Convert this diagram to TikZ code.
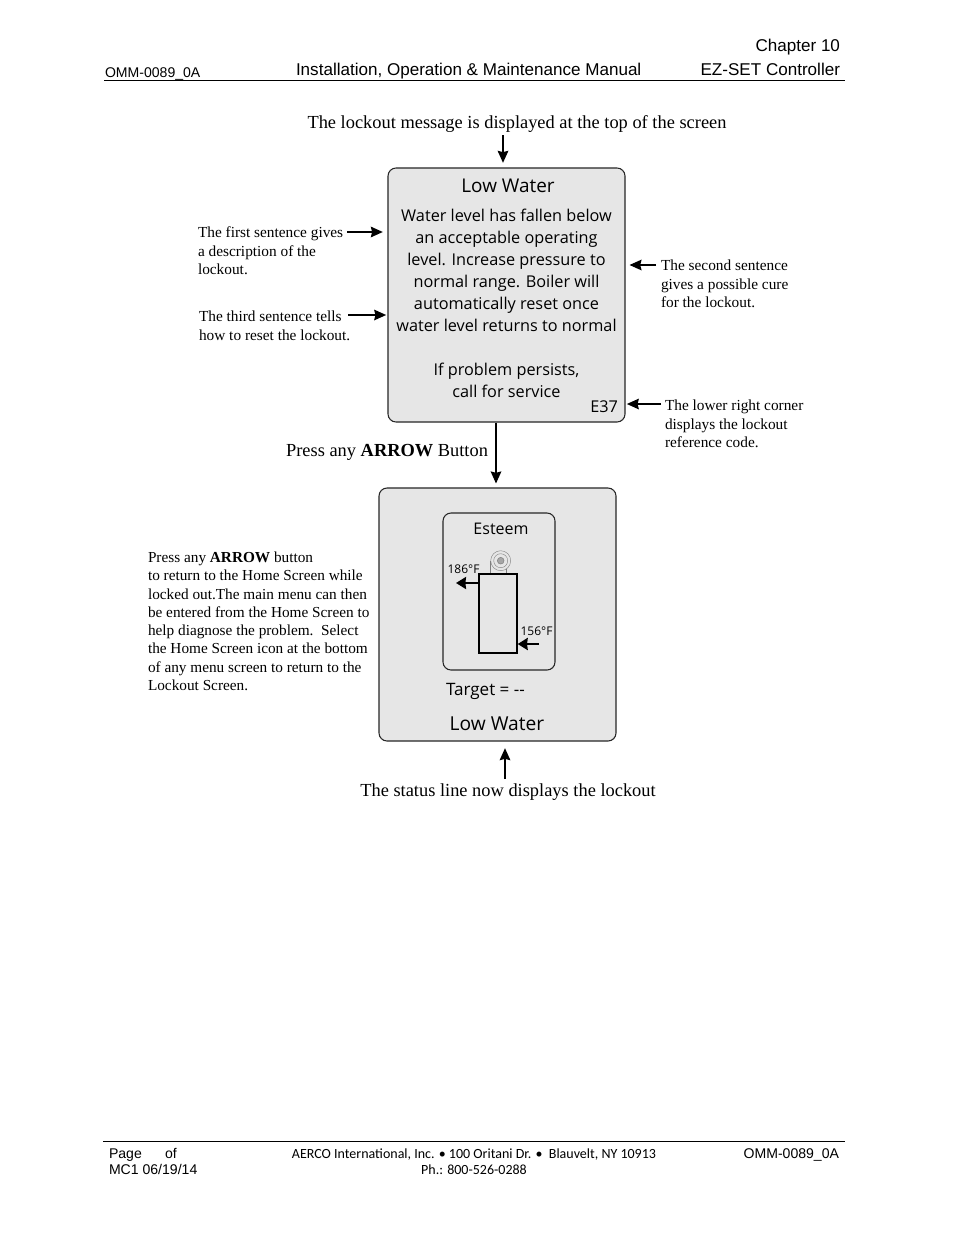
\documentclass[tikz,border=0pt]{standalone}
\usepackage{fontspec}
\usepackage{xcolor}
\usetikzlibrary{arrows.meta}
\setmainfont{Liberation Serif}
\newfontfamily\headfont{Liberation Sans}
\newfontfamily\footfont{Carlito}
\newfontfamily\screenfont{Open Sans}
\definecolor{screengray}{HTML}{E6E6E6}
\tikzset{
  lineup/.style={inner sep=0pt, outer sep=0pt},
  oneline/.style={lineup, text height=0.72em, text depth=0.22em, yshift=-2pt},
  headtext/.style={oneline, font=\headfont\fontsize{12.8}{14}\selectfont},
  smallhead/.style={oneline, font=\headfont\fontsize{10.55}{12}\selectfont},
  foottext/.style={oneline, font=\footfont\fontsize{10.5}{12}\selectfont},
  note/.style={lineup, align=left, anchor=north west, font=\fontsize{11.5}{13.9}\selectfont},
  caption/.style={oneline, font=\fontsize{13.8}{16}\selectfont},
  screen/.style={draw=black!85, fill=screengray, line width=0.8pt, rounded corners=6pt, inner sep=0pt},
  screentext/.style={lineup, font=\screenfont\fontsize{12.2}{16.5}\selectfont, align=center},
  arr/.style={-{Stealth[length=9pt, width=8pt, inset=1pt]}, line width=1pt},
  fatarr/.style={-{Stealth[length=7.5pt, width=9pt, inset=0.5pt]}, line width=2.1pt}
}
\begin{document}
\begin{tikzpicture}[x=0.75pt, y=-0.75pt]
    \useasboundingbox (0,0) rectangle (954,1235);
    \fill[white] (0,0) rectangle (954,1235);

    % page header
    \node[headtext, anchor=east] (chapter) at (840,45) {Chapter 10};
    \node[headtext, anchor=east] (controller) at (840,69) {EZ-SET Controller};
    \node[headtext, anchor=west] (manual) at (296,69) {Installation, Operation \& Maintenance Manual};
    \node[smallhead, anchor=west] (docleft) at (105,71) {OMM-0089\_0A};
    \coordinate (headl) at (104,80.5);
    \coordinate (headr) at (845,80.5);
    \draw[line width=0.7pt] (headl) -- (headr);

    % upper screen
    \node[screen, minimum width=177.75pt, minimum height=190.5pt] (screenA) at (506.5,295) {};
    \node[screentext, font=\screenfont\fontsize{14.2}{16}\selectfont] (titleA) at (508,186) {Low Water};
    \node[screentext] (bodyA) at (506.5,303.2) {Water level has fallen below\\an acceptable operating\\level. Increase pressure to\\normal range. Boiler will\\automatically reset once\\water level returns to normal\\~\\If problem persists,\\call for service};
    \node[screentext, anchor=east] (code) at (618,407) {E37};

    % lower screen
    \node[screen, minimum width=177.75pt, minimum height=189.75pt] (screenB) at (497.5,614.5) {};
    \node[screen, minimum width=84pt, minimum height=117.75pt] (panel) at (499,591.5) {};
    \node[screentext, font=\screenfont\fontsize{12}{16}\selectfont] (esteem) at (501,529) {Esteem};
    \node[draw=black, line width=1pt, fill=screengray, minimum width=28.5pt, minimum height=59.25pt, inner sep=0pt] (tank) at (498,613.5) {};
    \node[circle, draw=gray, fill=gray!70, minimum size=5pt, inner sep=0pt] (eye) at (500.7,560.7) {};
    \node[circle, draw=gray, line width=0.3pt, minimum size=10.5pt, inner sep=0pt] (ringin) at (500.7,560.7) {};
    \node[circle, draw=gray, line width=0.3pt, minimum size=15pt, inner sep=0pt] (ringout) at (500.7,560.7) {};
    \coordinate (stemL) at (490.7,561);
    \coordinate (stemR) at (506.5,569);
    \draw[gray, line width=0.4pt] (stemL) -- (stemL |- tank.north);
    \draw[gray, line width=0.4pt] (stemR) -- (stemR |- tank.north);
    \node[screentext, font=\screenfont\fontsize{9}{10}\selectfont] (hot) at (463.5,569) {186°F};
    \node[screentext, font=\screenfont\fontsize{9}{10}\selectfont] (cold) at (536.5,631) {156°F};
    \coordinate (hotat) at (456,583);
    \coordinate (coldat) at (539,644);
    \draw[fatarr] (hotat -| tank.west) -- (hotat);
    \draw[fatarr] (coldat) -- (coldat -| tank.east);
    \node[screentext, anchor=west, font=\screenfont\fontsize{12.8}{16}\selectfont] (target) at (446,691) {Target = --};
    \node[screentext, font=\screenfont\fontsize{14.4}{16}\selectfont] (statusB) at (497,724) {Low Water};

    % captions
    \node[caption] (msgtop) at (517,122) {The lockout message is displayed at the top of the screen};
    \node[caption, anchor=east] (press) at (488,450) {Press any \textbf{ARROW} Button};
    \node[caption] (msgstatus) at (508,790) {The status line now displays the lockout};

    % side notes
    \node[note] (first) at (198,227) {The first sentence gives\\a description of the\\lockout.};
    \node[note] (third) at (199,311) {The third sentence tells\\how to reset the lockout.};
    \node[note] (second) at (661,260) {The second sentence\\gives a possible cure\\for the lockout.};
    \node[note] (corner) at (665,400) {The lower right corner\\displays the lockout\\reference code.};
    \node[note, font=\fontsize{11.46}{13.7}\selectfont] (howto) at (148,552) {Press any \textbf{ARROW} button\\to return to the Home Screen while\\locked out.The main menu can then\\be entered from the Home Screen to\\help diagnose the problem.\ \ Select\\the Home Screen icon at the bottom\\of any menu screen to return to the\\Lockout Screen.};

    % arrows
    \coordinate (topfrom) at (503,135);
    \coordinate (firstfrom) at (347,232);
    \coordinate (thirdfrom) at (348,315);
    \coordinate (secondfrom) at (656,265);
    \coordinate (cornerfrom) at (661,404);
    \coordinate (pressat) at (496,450);
    \coordinate (statusfrom) at (505,779);
    \draw[arr, shorten >=3.5pt] (topfrom) -- (topfrom |- screenA.north);
    \draw[arr, shorten >=3.5pt] (firstfrom) -- (firstfrom -| screenA.west);
    \draw[arr, shorten >=1pt] (thirdfrom) -- (thirdfrom -| screenA.west);
    \draw[arr, shorten >=3pt] (secondfrom) -- (secondfrom -| screenA.east);
    \draw[arr, shorten >=1pt] (cornerfrom) -- (cornerfrom -| screenA.east);
    \draw[arr, shorten >=3pt] (pressat |- screenA.south) -- (pressat |- screenB.north);
    \draw[arr, shorten >=5pt] (statusfrom) -- (statusfrom |- screenB.south);

    % page footer
    \coordinate (footl) at (103,1141);
    \coordinate (footr) at (845,1141);
    \draw[line width=0.7pt] (footl) -- (footr);
    \node[smallhead, anchor=west] (page) at (109,1152) {Page};
    \node[smallhead, anchor=west] (of) at (165,1152) {of};
    \node[smallhead, anchor=west] (rev) at (109,1168) {MC1 06/19/14};
    \node[foottext] (aerco) at (474,1152) {AERCO International, Inc. \textbullet\ 100 Oritani Dr. \textbullet\ \ Blauvelt, NY 10913};
    \node[foottext] (phone) at (474,1168) {Ph.: 800-526-0288};
    \node[smallhead, anchor=east] (docright) at (839,1152) {OMM-0089\_0A};
\end{tikzpicture}
\end{document}
